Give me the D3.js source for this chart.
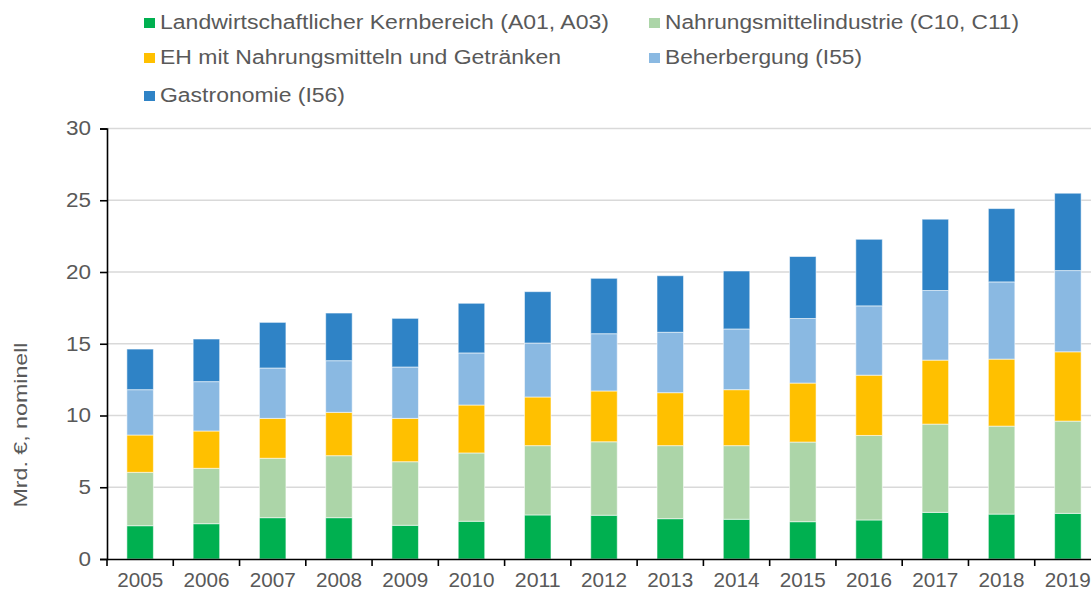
<!DOCTYPE html>
<html><head><meta charset="utf-8">
<script src="https://cdn.jsdelivr.net/npm/d3@7"></script>
<style>body{margin:0;background:#fff}svg{display:block}text{font-family:"Liberation Sans",Arial,sans-serif;fill:#595959}</style>
</head><body>
<svg id="c" width="1091" height="598"></svg>
<script>
const years = ["2005","2006","2007","2008","2009","2010","2011","2012","2013","2014","2015","2016","2017","2018","2019"];
const seriesNames = ["Landwirtschaftlicher Kernbereich (A01, A03)","Nahrungsmittelindustrie (C10, C11)","EH mit Nahrungsmitteln und Getränken","Beherbergung (I55)","Gastronomie (I56)"];
const landwirtschaft = [2.32,2.46,2.88,2.88,2.35,2.63,3.07,3.05,2.81,2.77,2.60,2.72,3.25,3.13,3.18];
const nahrungsmittel = [3.72,3.86,4.14,4.32,4.43,4.76,4.83,5.12,5.09,5.13,5.55,5.89,6.15,6.13,6.43];
const einzelhandel   = [2.60,2.60,2.78,3.02,3.02,3.34,3.39,3.54,3.69,3.90,4.11,4.20,4.46,4.67,4.83];
const beherbergung   = [3.16,3.44,3.51,3.60,3.58,3.63,3.76,3.99,4.21,4.23,4.50,4.83,4.85,5.38,5.66];
const gastronomie    = [2.83,2.97,3.18,3.32,3.39,3.46,3.58,3.86,3.94,4.04,4.32,4.64,4.97,5.11,5.39];
const yTicks = [0,5,10,15,20,25,30];
const colors = ["#00b050","#acd5a8","#ffc000","#8ab9e2","#2f83c6"];
const yTitle = "Mrd. €, nominell";

const seriesData = [landwirtschaft,nahrungsmittel,einzelhandel,beherbergung,gastronomie];
const keys = ["s0","s1","s2","s3","s4"];
const table = years.map((y,i)=>{const o={year:y}; keys.forEach((k,j)=>o[k]=seriesData[j][i]); return o;});

const svg = d3.select("#c");
const x = d3.scaleBand().domain(years).range([107,1101]).paddingInner(0.6).paddingOuter(0.3);
const y = d3.scaleLinear().domain([0,30]).range([559,128.5]);

// gridlines
svg.append("g").selectAll("line").data(yTicks.filter(d=>d>0)).join("line")
  .attr("x1",107).attr("x2",1091).attr("y1",d=>y(d)).attr("y2",d=>y(d))
  .attr("stroke","#d9d9d9").attr("stroke-width",1.5);

// bars
const stack = d3.stack().keys(keys)(table);
svg.append("g").selectAll("g").data(stack).join("g")
  .attr("fill",(d,i)=>colors[i])
  .selectAll("rect").data(d=>d).join("rect")
  .attr("x",d=>x(d.data.year)).attr("width",x.bandwidth())
  .attr("y",d=>y(d[1])).attr("height",d=>y(d[0])-y(d[1]))
  .attr("stroke","#ffffff").attr("stroke-opacity",0.55).attr("stroke-width",1);

// y axis
const yAxis = svg.append("g").attr("transform","translate(107,0)")
  .call(d3.axisLeft(y).tickValues(yTicks).tickSize(7).tickPadding(9));
yAxis.select(".domain").attr("stroke","#000").attr("stroke-width",1.6);
yAxis.selectAll(".tick line").attr("stroke","#000").attr("stroke-width",1.6);
yAxis.selectAll("text").style("font-size","20px").style("fill","#595959").style("font-family","Liberation Sans, Arial, sans-serif")
  .attr("textLength",d=>String(d).length*12.5).attr("lengthAdjust","spacingAndGlyphs");

// x axis
const xAxis = svg.append("g").attr("transform","translate(0,559)")
  .call(d3.axisBottom(x).tickSize(0).tickPadding(14));
xAxis.select(".domain").attr("stroke","#000").attr("stroke-width",1.6);
xAxis.selectAll("text").style("font-size","20px").style("fill","#595959").style("font-family","Liberation Sans, Arial, sans-serif")
  .attr("textLength",46).attr("lengthAdjust","spacingAndGlyphs");
const step = x.step();
const bounds = d3.range(years.length+1).map(i=>x.range()[0]+i*step);
xAxis.selectAll(".bt").data(bounds).join("line").attr("class","bt")
  .attr("x1",d=>d).attr("x2",d=>d).attr("y1",0).attr("y2",7)
  .attr("stroke","#000").attr("stroke-width",1.6);

// y title
svg.append("text").attr("transform","translate(27,425) rotate(-90)")
  .attr("text-anchor","middle").style("font-size","19px")
  .attr("textLength",165).attr("lengthAdjust","spacingAndGlyphs").text(yTitle);

// legend
const legPos = [[144,18],[649,18],[144,53],[649,53],[144,91]];
const legLen = [449,354,401,197,185];
const leg = svg.append("g").selectAll("g").data(seriesNames).join("g")
  .attr("transform",(d,i)=>`translate(${legPos[i][0]},${legPos[i][1]})`);
leg.append("rect").attr("width",11).attr("height",10).attr("fill",(d,i)=>colors[i]);
leg.append("text").attr("x",16).attr("y",11).style("font-size","20px")
  .attr("textLength",(d,i)=>legLen[i]).attr("lengthAdjust","spacingAndGlyphs").text(d=>d);
</script>
</body></html>
